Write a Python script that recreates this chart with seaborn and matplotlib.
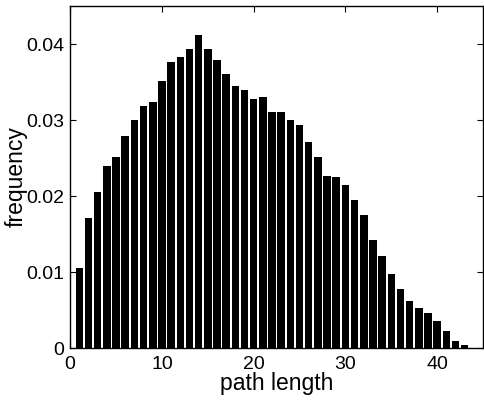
import matplotlib
matplotlib.use("Agg")
import matplotlib.pyplot as plt
import numpy as np
import seaborn as sns

# path length bins and their observed frequencies
path_length = list(range(1, 44))
frequency = [
    0.0105, 0.0171, 0.0205, 0.0240, 0.0252, 0.0279, 0.0300, 0.0319, 0.0324, 0.0351,
    0.0376, 0.0383, 0.0393, 0.0412, 0.0394, 0.0379, 0.0361, 0.0345, 0.0339, 0.0328,
    0.0330, 0.0311, 0.0310, 0.0300, 0.0293, 0.0271, 0.0252, 0.0226, 0.0225, 0.0215,
    0.0195, 0.0175, 0.0142, 0.0121, 0.0098, 0.0078, 0.0062, 0.0053, 0.0046, 0.0036,
    0.0023, 0.0009, 0.0004,
]
x_ticks = [0, 10, 20, 30, 40]
y_ticks = [0, 0.01, 0.02, 0.03, 0.04]
y_tick_labels = ["0", "0.01", "0.02", "0.03", "0.04"]

sns.set_style("ticks", {"text.color": "black", "axes.labelcolor": "black",
                        "xtick.color": "black", "ytick.color": "black"})
plt.rcParams["font.family"] = ["Liberation Sans", "DejaVu Sans"]

fig = plt.figure(figsize=(4.84, 4.01), dpi=100)
ax = fig.add_axes([0.145, 0.132, 0.853, 0.853])

sns.barplot(
    x=path_length,
    y=frequency,
    native_scale=True,
    color="black",
    saturation=1,
    width=0.82,
    linewidth=0,
    ax=ax,
)

ax.set_xlim(0, 45)
ax.set_ylim(0, 0.045)
ax.set_xticks(x_ticks)
ax.set_xticklabels([str(t) for t in x_ticks])
ax.set_yticks(y_ticks)
ax.set_yticklabels(y_tick_labels)
ax.tick_params(axis="both", direction="in", length=4, width=0.8, labelsize=14,
               top=True, right=True, colors="black")
ax.tick_params(axis="x", pad=6)
ax.tick_params(axis="y", pad=4)
for side in ["top", "right", "left", "bottom"]:
    ax.spines[side].set_visible(True)
    ax.spines[side].set_color("black")
    ax.spines[side].set_linewidth(1.0)

ax.set_xlabel("path length", fontsize=16.5, color="black")
ax.set_ylabel("frequency", fontsize=16.5, color="black")
ax.xaxis.set_label_coords(0.5, -0.07)
ax.yaxis.set_label_coords(-0.102, 0.5)

fig.savefig("out.png", dpi=100)
